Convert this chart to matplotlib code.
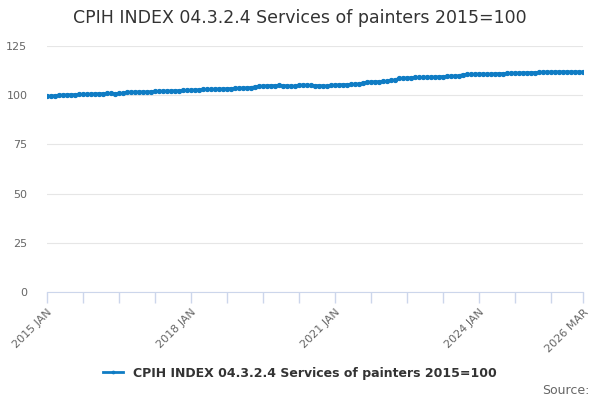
import numpy as np
import matplotlib
matplotlib.use("Agg")
import matplotlib.pyplot as plt

# monthly index values, 2015 JAN .. 2026 MAR
title = "CPIH INDEX 04.3.2.4 Services of painters 2015=100"
values = [
    99.5, 99.6, 99.8, 100.0, 100.1, 100.2, 100.3, 100.3, 100.4, 100.5, 100.5, 100.6,   # 2015
    100.7, 100.8, 100.8, 100.9, 100.9, 100.8, 100.9, 101.0, 101.5, 101.6, 101.6, 101.7,  # 2016
    101.7, 101.7, 101.8, 101.9, 102.0, 102.1, 102.1, 102.2, 102.3, 102.3, 102.4, 102.5,  # 2017
    102.6, 102.7, 102.8, 102.9, 103.0, 103.0, 103.1, 103.2, 103.2, 103.3, 103.4, 103.5,  # 2018
    103.6, 103.7, 103.8, 103.9, 104.2, 104.5, 104.7, 104.8, 104.9, 104.9, 105.0, 104.9,  # 2019
    104.8, 104.7, 104.6, 105.1, 105.2, 105.1, 105.0, 104.9, 104.9, 104.8, 104.7, 105.0,  # 2020
    105.2, 105.3, 105.4, 105.4, 105.5, 105.6, 105.8, 106.2, 106.6, 106.8, 106.9, 106.9,  # 2021
    107.0, 107.1, 107.5, 107.8, 108.5, 108.7, 108.8, 108.9, 109.0, 109.0, 109.1, 109.2,  # 2022
    109.2, 109.3, 109.4, 109.5, 109.6, 109.7, 109.8, 109.9, 110.5, 110.6, 110.6, 110.7,  # 2023
    110.8, 110.8, 110.7, 110.8, 110.9, 111.0, 111.0, 111.1, 111.2, 111.3, 111.3, 111.4,  # 2024
    111.4, 111.5, 111.5, 111.6, 111.8, 111.8, 111.8, 111.9, 111.9, 111.9, 111.9, 111.9,  # 2025
    111.9, 111.9, 111.8,                                                                  # 2026
]
months = ["JAN", "FEB", "MAR", "APR", "MAY", "JUN", "JUL", "AUG", "SEP", "OCT", "NOV", "DEC"]
labels = [f"{2015 + i // 12} {months[i % 12]}" for i in range(len(values))]
label_idx = [0, 36, 72, 108, len(values) - 1]
y_ticks = [0, 25, 50, 75, 100, 125]

x = np.arange(len(values))
blue = "#0f7cc4"
axis_col = "#ccd6eb"
text_col = "#666666"

fig = plt.figure(figsize=(6, 4), dpi=100)
ax = fig.add_axes([0.078, 0.27, 0.894, 0.615])

ax.plot(x, values, color=blue, lw=2, marker="o", ms=2.8, label=title)

ax.set_xlim(0, len(values) - 1)
ax.set_ylim(0, 125)
ax.set_yticks(y_ticks)
ax.grid(axis="y", color="#e6e6e6", lw=0.8)
ax.set_axisbelow(True)

# ticks every 9 months plus the end, labels only on some
tick_pos = list(range(0, len(values), 9)) + [len(values) - 1]
ax.set_xticks(tick_pos)
ax.set_xticklabels([labels[i] if i in label_idx else "" for i in tick_pos],
                   rotation=45, ha="right", va="top", rotation_mode="anchor")
ax.tick_params(axis="x", length=8, color=axis_col, width=1,
               labelsize=8, labelcolor=text_col, pad=3)
ax.tick_params(axis="y", length=0, labelsize=8, labelcolor=text_col, pad=14)

for s in ["top", "right", "left"]:
    ax.spines[s].set_visible(False)
ax.spines["bottom"].set_color(axis_col)

fig.text(0.5, 0.955, title, ha="center", va="center", fontsize=12.5, color="#333333")
leg = fig.legend(loc="center", bbox_to_anchor=(0.5, 0.067), frameon=False,
                 fontsize=9, handlelength=1.6, markerscale=0.6)
for t in leg.get_texts():
    t.set_fontweight("bold")
    t.set_color("#333333")
fig.text(0.982, 0.025, "Source:", ha="right", va="center", fontsize=9, color=text_col)

fig.savefig("out.png", dpi=100)
